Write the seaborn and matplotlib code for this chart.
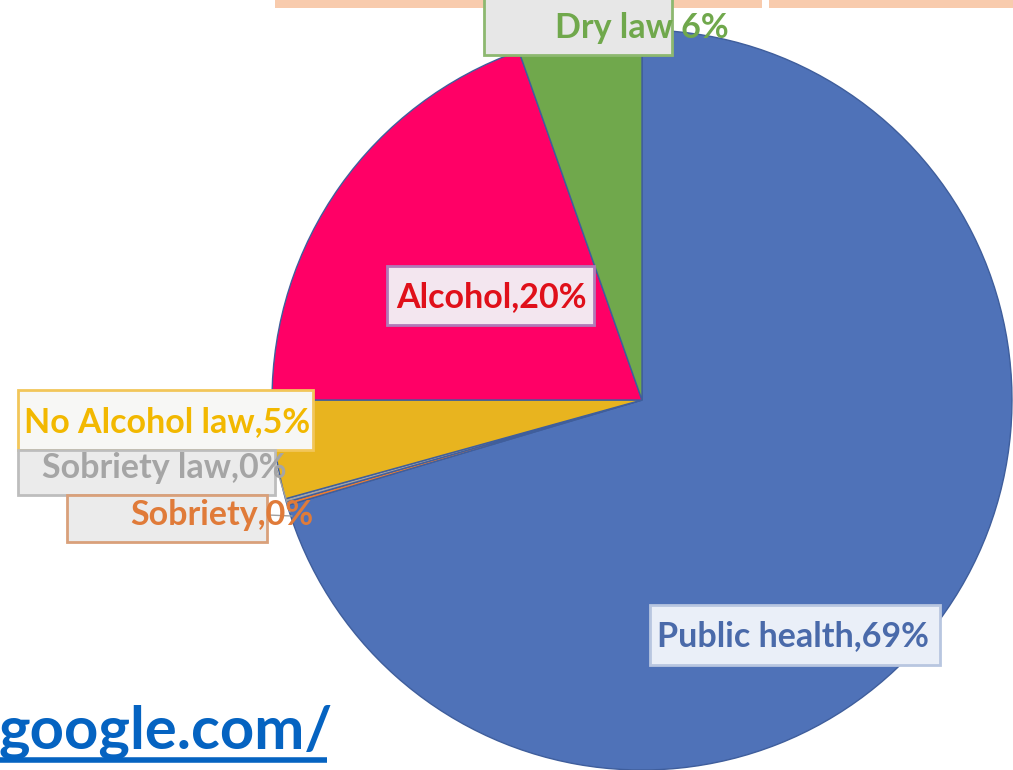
import matplotlib
matplotlib.use("Agg")
import matplotlib.pyplot as plt
from matplotlib.patches import Rectangle
import seaborn as sns

# ---- data ----
categories = ["Public health", "Sobriety", "Sobriety law", "No Alcohol law", "Alcohol", "Dry law"]
shares = [70.4, 0.15, 0.15, 4.3, 19.6, 5.4]          # wedge sizes
label_pct = [69, 0, 0, 5, 20, 6]                     # percentages printed on the labels
colors = ["#4F72B8", "#ED7D31", "#A5A5A5", "#E8B41F", "#FF0066", "#70A84C"]

sns.set_theme(style="white")
plt.rcParams["font.family"] = ["Lato", "DejaVu Sans"]

W, H = 1013, 770
fig = plt.figure(figsize=(W / 100, H / 100), dpi=100)
ax = fig.add_axes([0, 0, 1, 1])

def py(y):  # convert image-style y (from top) to axes y
    return H - y

ax.pie(shares, colors=colors, startangle=90, counterclock=False,
       center=(642, py(400)), radius=370,
       wedgeprops=dict(edgecolor="#3F5E9C", linewidth=1.0))
ax.set_xlim(0, W)
ax.set_ylim(0, H)
ax.set_aspect("equal")
ax.axis("off")

# top peach bar
ax.add_patch(Rectangle((275, py(8)), 487, 8, facecolor="#F8CBAD", edgecolor="none", zorder=5))
ax.add_patch(Rectangle((769, py(8)), 250, 8, facecolor="#F8CBAD", edgecolor="none", zorder=5))

def box(x0, y0, x1, y1, fc, ec):
    ax.add_patch(Rectangle((x0, py(y1)), x1 - x0, y1 - y0, facecolor=fc,
                           edgecolor=ec, linewidth=2, zorder=6))

def label(i, x, y, color, size=24.5, sep=","):
    ax.text(x, py(y), f"{categories[i]}{sep}{label_pct[i]}%", color=color,
            fontsize=size, fontweight="bold", ha="left", va="center", zorder=8)

# leader lines for tiny slices
ax.plot([277, 290], [py(470), py(512)], color="#A0A0A0", lw=1, zorder=5)
ax.plot([268, 292], [py(515), py(516)], color="#A0A0A0", lw=1, zorder=5)

# Dry law
box(484, -5, 672, 55, "#E7E7E7", "#8DB870")
label(5, 555, 28, "#70A84C", sep=" ")
# Alcohol
box(387, 266, 594, 325, "#F3E6EF", "#B07AB8")
label(4, 396, 297, "#E0101A")
# Public health
box(650, 605, 940, 665, "#EAEFF8", "#B8C6E0")
label(0, 657, 636, "#4A6AAA")
# No Alcohol law
box(18, 390, 313, 450, "#F7F7F5", "#F2C65A")
label(3, 24, 422, "#F2B800")
# Sobriety law
box(18, 450, 275, 495, "#EBEBEB", "#BDBDBD")
label(2, 42, 468, "#A5A5A5")
# Sobriety
box(67, 495, 267, 542, "#EBEBEB", "#D9A07A")
label(1, 130, 515, "#E07B39")

# link text
ax.text(-2, py(749), "google.com/", color="#0563C1", fontsize=43,
        fontweight="bold", ha="left", va="baseline", zorder=8)
ax.plot([0, 327], [py(760), py(760)], color="#0563C1", lw=4, zorder=8,
        solid_capstyle="butt")

fig.savefig("out.png", dpi=100)
